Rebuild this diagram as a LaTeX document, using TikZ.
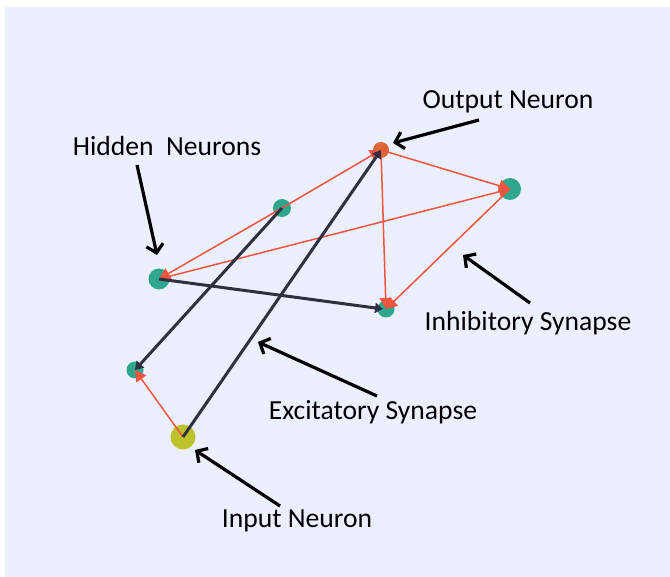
\documentclass[tikz,border=0pt]{standalone}
\usepackage{fontspec}
\setmainfont{Carlito}
\usetikzlibrary{arrows.meta}
\definecolor{panelbg}{HTML}{ECF0FE}
\definecolor{hiddencol}{HTML}{2FA68E}
\definecolor{outcol}{HTML}{DC6638}
\definecolor{incol}{HTML}{BEC22A}
\definecolor{inhibcol}{HTML}{F0563F}
\definecolor{excitcol}{HTML}{2E3142}
\tikzset{
  neuron/.style={circle, inner sep=0pt, draw=none},
  inhib/.style={draw=inhibcol, line width=1.5pt, -{Triangle[length=11pt,width=12pt]}},
  excit/.style={draw=excitcol, line width=3pt, -{Triangle[length=8pt,width=10pt]}},
  callout/.style={draw=black, line width=3.2pt, -{Straight Barb[length=8pt,width=17pt]}},
  lbl/.style={font=\fontsize{27.6}{30}\selectfont, inner sep=0pt, text=black}
}
\begin{document}
\begin{tikzpicture}[x=1pt,y=-1pt]
\useasboundingbox (0,0) rectangle (670,577);
\fill[panelbg] (5,7) rectangle (670,577);

% neurons
\node[neuron, fill=outcol, minimum size=16pt] (out) at (381,150) {};
\node[neuron, fill=hiddencol, minimum size=22pt] (hr) at (510,189) {};
\node[neuron, fill=hiddencol, minimum size=18pt] (ht) at (282,208) {};
\node[neuron, fill=hiddencol, minimum size=21pt] (hl) at (159,279) {};
\node[neuron, fill=hiddencol, minimum size=17pt] (hb) at (386,309) {};
\node[neuron, fill=hiddencol, minimum size=17pt] (hs) at (135,370) {};
\node[neuron, fill=incol, minimum size=25pt] (in) at (183,437) {};

% inhibitory synapses
\draw[inhib] (ht.center) -- (out.center);
\draw[inhib] (ht.center) -- (hl.center);
\draw[inhib] (out.center) -- (hb.center);
\draw[inhib] (out.center) -- (hr.center);
\draw[inhib] (hl.center) -- (hr.center);
\draw[inhib] (hr.center) -- (hb.center);
\draw[inhib] (in.center) -- (hs.center);

% excitatory synapses
\draw[excit] (in.center) -- (out.center);
\draw[excit] (ht.center) -- (hs.center);
\draw[excit] (hl.center) -- ([xshift=-3pt]hb.center);

% labels
\node[lbl] (louter) at (508,102) {Output Neuron};
\node[lbl] (lhid) at (167,146) {Hidden~~Neurons};
\node[lbl] (linh) at (528,323) {Inhibitory Synapse};
\node[lbl] (lexc) at (373,412) {Excitatory Synapse};
\node[lbl] (linp) at (297,521) {Input Neuron};

% callout arrows
\coordinate (ca1) at (479,120); \coordinate (cb1) at (393,143);
\coordinate (ca2) at (137,165); \coordinate (cb2) at (157,255);
\coordinate (ca3) at (530,303); \coordinate (cb3) at (463,255);
\coordinate (ca4) at (377,396); \coordinate (cb4) at (258,342);
\coordinate (ca5) at (280,506); \coordinate (cb5) at (195,450);
\draw[callout] (ca1) -- (cb1);
\draw[callout] (ca2) -- (cb2);
\draw[callout] (ca3) -- (cb3);
\draw[callout] (ca4) -- (cb4);
\draw[callout] (ca5) -- (cb5);
\end{tikzpicture}
\end{document}
